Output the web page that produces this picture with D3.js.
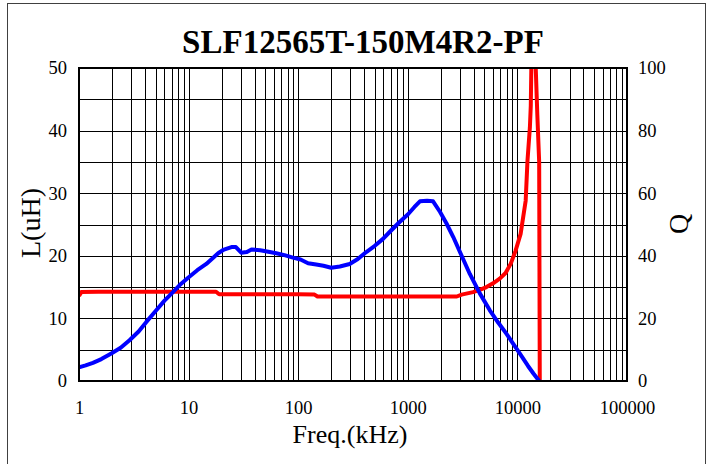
<!DOCTYPE html>
<html><head><meta charset="utf-8">
<script src="https://cdn.jsdelivr.net/npm/d3@7"></script>
<style>body{margin:0;background:#fff}svg{display:block}text{font-family:"Liberation Serif","Times New Roman",serif;fill:#000}</style>
</head><body><svg id="c" width="713" height="464"></svg>
<script>
const title = "SLF12565T-150M4R2-PF";
const xTicks = [1, 10, 100, 1000, 10000, 100000];
const lTicks = [0, 10, 20, 30, 40, 50];
const qTicks = [0, 20, 40, 60, 80, 100];
// Inductance L (uH) vs frequency (kHz)
const lFreq = [1.0,1.15,1.34,1.6,1.97,2.4,2.89,3.5,4.1,5.07,6.0,7.2,8.5,9.9,12,14.5,18.6,21,24.6,27,30.2,34,37.5,45,55,63,75,89.6,105,123,146,170,200,240,295,350,418,500,594,700,842,1000,1150,1290,1500,1700,1970,2250,2600,3100,3680,4540,5600,6700,7900,9200,10500,12500,14000,15800];
const lVals = [2.2,2.5,2.9,3.5,4.4,5.3,6.5,7.9,9.4,11.3,12.8,14.2,15.5,16.5,17.7,18.7,20.4,21.0,21.4,21.4,20.5,20.6,21.0,20.9,20.6,20.4,20.1,19.7,19.4,18.8,18.6,18.4,18.1,18.3,18.7,19.5,20.6,21.6,22.7,24.0,25.4,26.6,27.8,28.7,28.8,28.7,27.0,25.2,23.0,20.0,17.1,14.0,11.3,9.3,7.6,5.9,4.4,2.4,1.2,0];
// Quality factor Q vs frequency (kHz)
const qFreq = [1.0,1.05,1.5,5,10,17.8,19,50,100,141,150,500,1000,2800,3100,3940,4600,5220,6000,6900,7800,8700,9600,10700,11900,12360,13000,13250,13400,13600,14500,14700,15200,15800,16000];
const qVals = [27.2,28.4,28.5,28.5,28.5,28.5,27.7,27.7,27.7,27.6,27.0,27.0,27.0,27.0,27.6,28.4,29.2,30.0,31.2,32.7,34.5,37.5,41.5,47,57.6,70.4,81,88,100,115,115,100,85,70,0];

const svg = d3.select("#c");
const M = {l:79, r:627, t:68, b:381};
const x = d3.scaleLog().domain([1,100000]).range([M.l, M.r]);
const yL = d3.scaleLinear().domain([0,50]).range([M.b, M.t]);
const yQ = d3.scaleLinear().domain([0,100]).range([M.b, M.t]);

// outer frame
svg.append("rect").attr("x",7.5).attr("y",3.5).attr("width",698).attr("height",470)
  .attr("fill","none").attr("stroke","#404040").attr("stroke-width",1);

// grid
const g = svg.append("g");
const vLines = [];
for (let d=1; d<100000; d*=10) for (let k=1;k<10;k++) vLines.push(d*k);
g.selectAll("line.v").data(vLines).join("line")
  .attr("x1",d=>Math.round(x(d))+0.5).attr("x2",d=>Math.round(x(d))+0.5)
  .attr("y1",M.t).attr("y2",M.b).attr("stroke","#000").attr("stroke-width",1);
const hLines = d3.range(5,50,5);
g.selectAll("line.h").data(hLines).join("line")
  .attr("x1",M.l).attr("x2",M.r)
  .attr("y1",d=>Math.round(yL(d))+0.5).attr("y2",d=>Math.round(yL(d))+0.5)
  .attr("stroke","#000").attr("stroke-width",1);

svg.append("clipPath").attr("id","cp").append("rect")
  .attr("x",M.l).attr("y",M.t).attr("width",M.r-M.l).attr("height",M.b-M.t);

const qData = qFreq.map((f,i)=>[f,qVals[i]]);
const lData = lFreq.map((f,i)=>[f,lVals[i]]);
svg.append("path").attr("clip-path","url(#cp)")
  .attr("d", d3.line().x(d=>x(d[0])).y(d=>yQ(d[1]))(qData))
  .attr("fill","none").attr("stroke","#ff0000").attr("stroke-width",4).attr("stroke-linejoin","round");
svg.append("path").attr("clip-path","url(#cp)")
  .attr("d", d3.line().x(d=>x(d[0])).y(d=>yL(d[1]))(lData))
  .attr("fill","none").attr("stroke","#0000ff").attr("stroke-width",4).attr("stroke-linejoin","round").attr("stroke-linecap","round");

// plot border
svg.append("rect").attr("x",M.l).attr("y",M.t).attr("width",M.r-M.l).attr("height",M.b-M.t)
  .attr("fill","none").attr("stroke","#000").attr("stroke-width",2);

// axes (labels only)
const fmt = d3.format("d");
const ax = d3.axisBottom(x).tickValues(xTicks).tickFormat(fmt).tickSize(0).tickPadding(20);
const gx = svg.append("g").attr("transform",`translate(0,${M.b})`).call(ax);
const al = d3.axisLeft(yL).tickValues(lTicks).tickSize(0).tickPadding(12);
const gl = svg.append("g").attr("transform",`translate(${M.l},0)`).call(al);
const ar = d3.axisRight(yQ).tickValues(qTicks).tickSize(0).tickPadding(11);
const gr = svg.append("g").attr("transform",`translate(${M.r},0)`).call(ar);
[gx,gl,gr].forEach(a=>{a.select(".domain").remove();
  a.selectAll("text").style("font-family",'"Liberation Serif",serif').style("font-size","18.5px").attr("fill","#000");});

svg.append("text").attr("x",363).attr("y",53).attr("text-anchor","middle")
  .style("font-size","33px").attr("font-weight","bold").text(title);
svg.append("text").attr("x",350).attr("y",443).attr("text-anchor","middle")
  .style("font-size","26px").text("Freq.(kHz)");
svg.append("text").attr("transform","translate(40,223) rotate(-90)").attr("text-anchor","middle")
  .style("font-size","28px").text("L(uH)");
svg.append("text").attr("transform","translate(688,224) rotate(-90)").attr("text-anchor","middle")
  .style("font-size","28px").text("Q");
</script></body></html>
